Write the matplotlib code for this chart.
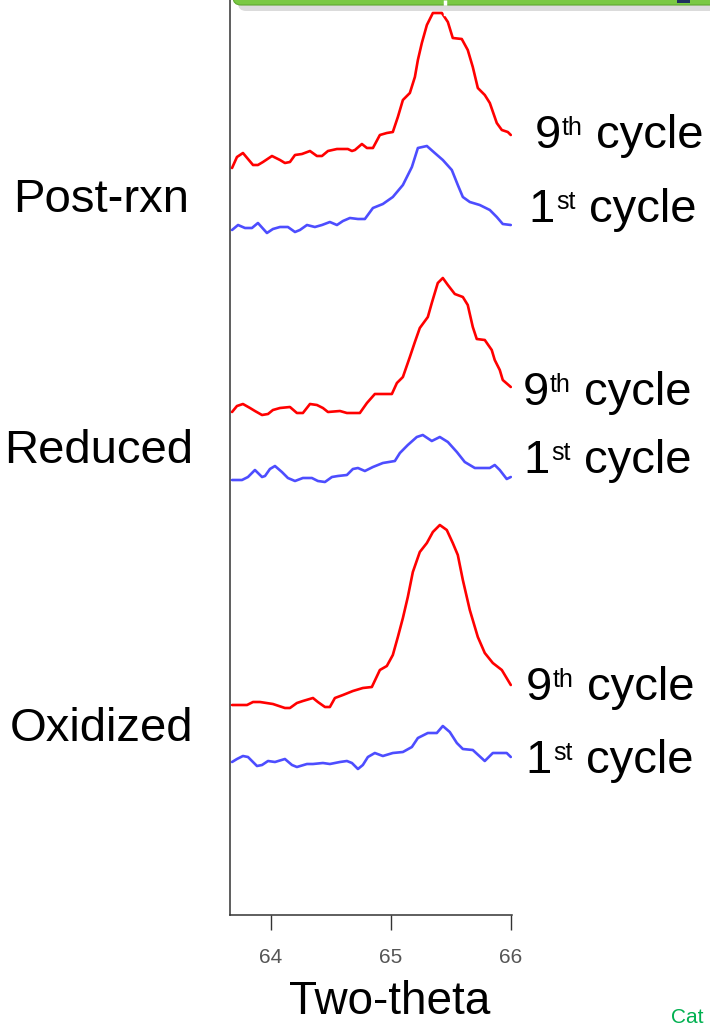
import numpy as np
import matplotlib
matplotlib.use("Agg")
import matplotlib.pyplot as plt
import matplotlib.patches as mpatches
from matplotlib.lines import Line2D
from matplotlib.transforms import IdentityTransform

plt.rcParams["font.family"] = ["Liberation Sans", "DejaVu Sans"]

# ---- data: two-theta (deg) and intensity (a.u., relative to each trace's start) ----
post9_tt = [63.675, 63.716, 63.766, 63.85, 63.891, 63.933, 64.008, 64.075, 64.116, 64.158,
            64.2, 64.258, 64.325, 64.383, 64.425, 64.475, 64.55, 64.641, 64.675, 64.7,
            64.758, 64.8, 64.85, 64.908, 64.966, 65.016, 65.058, 65.1, 65.158, 65.2,
            65.225, 65.258, 65.3, 65.35, 65.425, 65.475, 65.516, 65.591, 65.641, 65.683,
            65.725, 65.783, 65.825, 65.883, 65.925, 65.975, 66.0]
post9_int = [0, 11, 15, 3, 3, 6, 12, 8, 5, 6,
             13, 14, 17, 12, 12, 17, 19, 19, 17, 18,
             24, 20, 20, 33, 35, 36, 51, 68, 75, 91,
             108, 125, 143, 155, 155, 146, 130, 129, 118, 101,
             80, 73, 65, 45, 38, 36, 33]

post1_tt = [63.675, 63.725, 63.783, 63.841, 63.891, 63.966, 64.016, 64.075, 64.141, 64.2,
            64.241, 64.3, 64.366, 64.425, 64.491, 64.55, 64.6, 64.658, 64.725, 64.783,
            64.85, 64.933, 65.016, 65.1, 65.175, 65.225, 65.3, 65.366, 65.433, 65.508,
            65.558, 65.6, 65.658, 65.741, 65.825, 65.883, 65.933, 66.0]
post1_int = [0, 5, 2, 2, 7, -3, 1, 3, 3, -2,
             0, 5, 3, 5, 8, 5, 9, 12, 11, 11,
             22, 26, 33, 45, 63, 82, 84, 77, 70, 60,
             45, 33, 28, 25, 20, 13, 6, 5]

red9_tt = [63.675, 63.716, 63.766, 63.825, 63.866, 63.925, 63.975, 64.016, 64.075, 64.158,
           64.216, 64.266, 64.325, 64.383, 64.433, 64.475, 64.575, 64.633, 64.741, 64.8,
           64.866, 65.008, 65.05, 65.1, 65.158, 65.2, 65.241, 65.308, 65.341, 65.391,
           65.433, 65.475, 65.533, 65.6, 65.641, 65.683, 65.716, 65.783, 65.841, 65.866,
           65.908, 65.933, 66.0]
red9_int = [0, 6, 8, 4, 1, -3, -2, 2, 4, 5,
            -1, -1, 8, 7, 4, 0, 1, -1, -1, 9,
            18, 18, 29, 35, 55, 70, 84, 95, 109, 129,
            134, 127, 118, 115, 107, 85, 73, 72, 62, 52,
            42, 32, 25]

red1_tt = [63.675, 63.758, 63.808, 63.866, 63.925, 63.95, 63.991, 64.033, 64.091, 64.141,
           64.2, 64.266, 64.341, 64.391, 64.45, 64.508, 64.558, 64.633, 64.683, 64.725,
           64.783, 64.85, 64.933, 65.033, 65.075, 65.141, 65.216, 65.266, 65.341, 65.408,
           65.475, 65.55, 65.616, 65.7, 65.825, 65.866, 65.908, 65.966, 66.0]
red1_int = [0, 0, 3, 10, 3, 4, 11, 14, 8, 2,
            -1, 2, 2, -1, -2, 3, 4, 5, 11, 12,
            9, 13, 17, 19, 27, 35, 43, 45, 39, 43,
            38, 28, 18, 12, 12, 15, 10, 1, 3]

ox9_tt = [63.675, 63.8, 63.85, 63.908, 64.016, 64.116, 64.158, 64.216, 64.266, 64.35,
          64.391, 64.45, 64.491, 64.533, 64.6, 64.683, 64.766, 64.841, 64.908, 64.966,
          65.016, 65.058, 65.1, 65.141, 65.183, 65.241, 65.3, 65.35, 65.408, 65.466,
          65.516, 65.558, 65.6, 65.658, 65.725, 65.783, 65.85, 65.925, 66.0]
ox9_int = [0, 0, 3, 3, 1, -3, -3, 2, 4, 7,
           3, -2, -2, 7, 10, 14, 17, 18, 35, 39,
           50, 68, 87, 108, 133, 153, 162, 173, 180, 175,
           162, 150, 125, 95, 68, 52, 42, 35, 20]

ox1_tt = [63.675, 63.716, 63.766, 63.808, 63.883, 63.925, 63.975, 64.033, 64.116, 64.175,
          64.216, 64.3, 64.35, 64.433, 64.491, 64.575, 64.633, 64.675, 64.725, 64.766,
          64.808, 64.866, 64.933, 65.016, 65.1, 65.175, 65.225, 65.308, 65.383, 65.433,
          65.491, 65.55, 65.6, 65.683, 65.783, 65.85, 65.966, 66.0]
ox1_int = [0, 3, 6, 5, -4, -3, 1, 0, 3, -3,
           -5, -2, -2, -1, -2, 0, 1, -1, -7, -3,
           5, 9, 6, 9, 10, 15, 24, 29, 29, 36,
           30, 19, 13, 12, 1, 9, 9, 5]

# vertical stacking offsets for each trace
offsets = [747, 685, 503, 435, 210, 153]
traces = [(post9_tt, post9_int), (post1_tt, post1_int),
          (red9_tt, red9_int), (red1_tt, red1_int),
          (ox9_tt, ox9_int), (ox1_tt, ox1_int)]
colors = ["#FF0000", "#4D4DFF"] * 3

W, H = 710, 1025
fig = plt.figure(figsize=(W / 100, H / 100), dpi=100)
ax = fig.add_axes([230 / W, (H - 915) / H, 282 / W, 915 / H])

for (tt, inten), off, c in zip(traces, offsets, colors):
    ax.plot(tt, np.array(inten) + off, color=c, lw=1.9,
            solid_joinstyle="round", solid_capstyle="round")

ax.set_xlim(63.658, 66.01)
ax.set_ylim(0, 915)
ax.set_xticks([64, 65, 66])
ax.set_yticks([])
for s in ("top", "right"):
    ax.spines[s].set_visible(False)
for s in ("left", "bottom"):
    ax.spines[s].set_color("#333333")
    ax.spines[s].set_linewidth(1.1)
ax.tick_params(axis="x", direction="out", length=11, width=1.0, color="#333333",
               labelsize=15, labelcolor="#555555", pad=13)

def fx(px):
    return px / W

def fy(py):
    return 1 - py / H

# group labels on the left
for txt, x, y in [("Post-rxn", 13, 212), ("Reduced", 4, 463), ("Oxidized", 10, 741)]:
    fig.text(fx(x), fy(y), txt, fontsize=34, va="baseline", ha="left")

# cycle labels with superscripts
def cycle_label(x, y, num, sup):
    fig.text(fx(x), fy(y), num, fontsize=34, va="baseline", ha="left")
    dx = 27 if num == "9" else 28
    fig.text(fx(x + dx), fy(y - 13), sup, fontsize=18, va="baseline", ha="left")
    fig.text(fx(x + 61), fy(y), "cycle", fontsize=34, va="baseline", ha="left")

cycle_label(535, 148, "9", "th")
cycle_label(528, 222, "1", "st")
cycle_label(523, 405, "9", "th")
cycle_label(523, 473, "1", "st")
cycle_label(526, 700, "9", "th")
cycle_label(525, 773, "1", "st")

fig.text(fx(390), fy(1024), "Two-theta", fontsize=33, ha="center", va="bottom")

# green banner at top edge (cut off) and small marks
shadow = mpatches.FancyBboxPatch((238, H - 11), 480, 20, boxstyle="round,pad=0,rounding_size=8",
                                 transform=IdentityTransform(), facecolor="#999999",
                                 edgecolor="none", alpha=0.35)
banner = mpatches.FancyBboxPatch((233, H - 5), 485, 20, boxstyle="round,pad=0,rounding_size=8",
                                 transform=IdentityTransform(), facecolor="#7AC943",
                                 edgecolor="#5FA830", linewidth=0.8)
navy = mpatches.Rectangle((677, H - 3), 13, 4, transform=IdentityTransform(),
                          facecolor="#1F2F5F", edgecolor="none")
for p in (shadow, banner, navy):
    fig.patches.append(p)
fig.lines.append(Line2D([445, 445], [H, H - 16], transform=IdentityTransform(),
                        color="white", lw=2.5, dashes=(1.5, 1.5)))

fig.text(fx(671), fy(1008), "Cat", fontsize=15, color="#00B050", va="top", ha="left")

fig.savefig("out.png", dpi=100)
